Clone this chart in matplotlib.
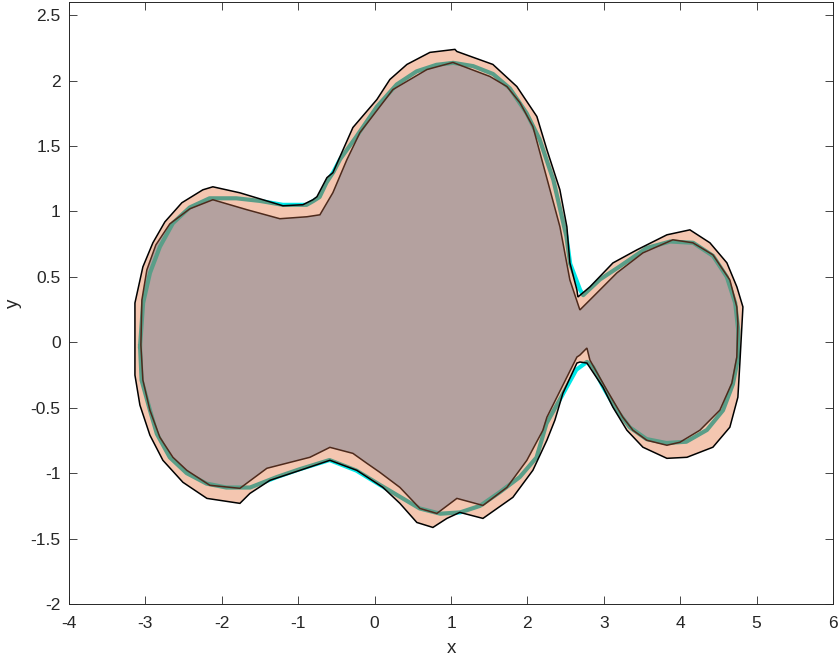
import numpy as np
import matplotlib.pyplot as plt
from matplotlib.patches import Polygon

plt.rcParams['font.family'] = ['Liberation Sans', 'DejaVu Sans']
plt.rcParams['axes.unicode_minus'] = False

# smooth closed curve (cyan line)
curve_x = [-3.07, -3.03, -2.94, -2.81, -2.64, -2.42, -2.16, -1.81, -1.50, -1.20,
           -0.89, -0.80, -0.72, -0.63, -0.54, -0.45, -0.24, 0.03, 0.29, 0.55,
           0.81, 1.03, 1.29, 1.55, 1.77, 1.99, 2.16, 2.34, 2.51, 2.56,
           2.69, 2.73, 2.95, 3.21, 3.56, 3.87, 4.17, 4.43, 4.61, 4.72,
           4.76, 4.76, 4.69, 4.56, 4.35, 4.08, 3.82, 3.56, 3.34, 3.17,
           2.99, 2.86, 2.78, 2.64, 2.47, 2.25, 2.12, 1.90, 1.64, 1.38,
           1.12, 0.86, 0.59, 0.33, 0.07, -0.24, -0.59, -0.98, -1.28, -1.63,
           -1.94, -2.20, -2.46, -2.68, -2.85, -2.94, -3.05, -3.07]
curve_y = [-0.03, 0.30, 0.53, 0.73, 0.91, 1.03, 1.10, 1.10, 1.08, 1.05,
           1.05, 1.08, 1.11, 1.22, 1.30, 1.40, 1.57, 1.80, 1.97, 2.07,
           2.12, 2.135, 2.11, 2.05, 1.94, 1.75, 1.55, 1.24, 0.81, 0.60,
           0.40, 0.36, 0.48, 0.58, 0.72, 0.77, 0.76, 0.66, 0.50, 0.30,
           0.09, -0.11, -0.32, -0.52, -0.67, -0.76, -0.77, -0.74, -0.65, -0.52,
           -0.34, -0.19, -0.15, -0.21, -0.39, -0.62, -0.88, -1.03, -1.145, -1.25,
           -1.30, -1.31, -1.27, -1.18, -1.09, -0.98, -0.90, -0.97, -1.03, -1.11,
           -1.11, -1.08, -1.00, -0.88, -0.70, -0.52, -0.29, -0.03]

# outer bound polygon (black edge)
outer_x = [-3.137, -3.137, -3.033, -2.902, -2.745, -2.523, -2.248, -2.117, -1.763, -1.200,
           -0.939, -0.808, -0.755, -0.624, -0.546, -0.284, 0.030, 0.200, 0.423, 0.724,
           1.051, 1.077, 1.548, 1.862, 2.124, 2.255, 2.425, 2.517, 2.556, 2.648,
           2.661, 2.818, 3.119, 3.433, 3.826, 4.127, 4.389, 4.611, 4.742, 4.821,
           4.781, 4.755, 4.650, 4.428, 4.088, 3.826, 3.512, 3.302, 3.119, 2.988,
           2.779, 2.687, 2.648, 2.465, 2.360, 2.255, 2.072, 1.810, 1.418, 1.116,
           0.946, 0.763, 0.553, 0.331, 0.109, -0.232, -0.585, -0.978, -1.370, -1.632,
           -1.763, -2.195, -2.509, -2.771, -2.941, -3.072, -3.137]
outer_y = [-0.136, 0.300, 0.576, 0.760, 0.920, 1.066, 1.165, 1.188, 1.142, 1.043,
           1.051, 1.089, 1.112, 1.258, 1.296, 1.641, 1.855, 2.008, 2.123, 2.215,
           2.238, 2.222, 2.123, 1.954, 1.725, 1.472, 1.166, 0.882, 0.607, 0.400,
           0.346, 0.423, 0.606, 0.706, 0.821, 0.859, 0.760, 0.607, 0.423, 0.270,
           -0.159, -0.420, -0.649, -0.802, -0.879, -0.887, -0.802, -0.672, -0.496, -0.343,
           -0.159, -0.151, -0.159, -0.389, -0.595, -0.749, -0.978, -1.185, -1.346, -1.300,
           -1.346, -1.415, -1.377, -1.231, -1.109, -0.979, -0.902, -0.979, -1.055, -1.155,
           -1.231, -1.193, -1.070, -0.902, -0.710, -0.480, -0.251]

# inner bound polygon (brown edge)
inner_x = [-3.059, -3.046, -2.981, -2.863, -2.680, -2.418, -2.117, -1.672, -1.240, -0.886,
           -0.716, -0.546, -0.363, -0.192, 0.240, 0.685, 1.025, 1.509, 1.732, 1.902,
           2.072, 2.164, 2.295, 2.426, 2.556, 2.687, 2.857, 3.171, 3.512, 3.904,
           4.166, 4.428, 4.650, 4.741, 4.755, 4.741, 4.676, 4.519, 4.258, 3.996,
           3.826, 3.564, 3.381, 3.250, 3.041, 2.818, 2.779, 2.687, 2.648, 2.255,
           2.203, 1.993, 1.732, 1.418, 1.077, 0.815, 0.593, 0.331, 0.069, -0.101,
           -0.284, -0.585, -0.847, -1.410, -1.763, -2.156, -2.457, -2.640, -2.811, -2.941,
           -3.033]
inner_y = [-0.021, 0.323, 0.553, 0.744, 0.905, 1.020, 1.089, 1.013, 0.944, 0.959,
           0.974, 1.143, 1.395, 1.602, 1.931, 2.084, 2.138, 2.031, 1.954, 1.831,
           1.648, 1.449, 1.166, 0.882, 0.476, 0.247, 0.346, 0.530, 0.683, 0.783,
           0.760, 0.668, 0.476, 0.270, 0.147, -0.113, -0.312, -0.519, -0.672, -0.764,
           -0.787, -0.749, -0.672, -0.573, -0.366, -0.136, -0.044, -0.098, -0.113, -0.573,
           -0.672, -0.902, -1.109, -1.247, -1.193, -1.308, -1.270, -1.109, -0.994, -0.925,
           -0.849, -0.803, -0.879, -0.963, -1.116, -1.093, -0.979, -0.879, -0.726, -0.519,
           -0.289]

fig = plt.figure(figsize=(8.38, 6.58), dpi=100)
ax = fig.add_axes([69 / 838, 54 / 658, 764 / 838, 602 / 658])

outer = np.column_stack([outer_x, outer_y])
inner = np.column_stack([inner_x, inner_y])

ax.plot(curve_x, curve_y, color='#00e8e8', lw=3, zorder=1)
ax.add_patch(Polygon(outer, closed=True, facecolor='#f4c6b0', edgecolor='none', zorder=2))
ax.add_patch(Polygon(inner, closed=True, facecolor='#b4a19f', edgecolor='none', zorder=3))
clip = Polygon(outer, closed=True, transform=ax.transData)
teal, = ax.plot(curve_x, curve_y, color='#5a9e88', lw=3, zorder=4)
teal.set_clip_path(clip)
ax.add_patch(Polygon(outer, closed=True, facecolor='none', edgecolor='black', lw=1.1, zorder=5))
ax.add_patch(Polygon(inner, closed=True, facecolor='none', edgecolor='#4e2a1c', lw=1.1, zorder=5))

ax.set_xlim(-4, 6)
ax.set_ylim(-2, 2.6)
ax.set_xticks(np.arange(-4, 7, 1))
ax.set_yticks(np.arange(-2, 2.51, 0.5))
ax.set_yticklabels(['-2', '-1.5', '-1', '-0.5', '0', '0.5', '1', '1.5', '2', '2.5'])
ax.tick_params(direction='in', top=True, right=True, length=5.5, width=0.6,
               labelsize=12.5, colors='#262626')
ax.tick_params(axis='x', pad=9)
ax.tick_params(axis='y', pad=6)
for s in ax.spines.values():
    s.set_color('#262626')
    s.set_linewidth(0.7)
ax.set_xlabel('x', fontsize=13.5, color='#262626', labelpad=6)
ax.set_ylabel('y', fontsize=13.5, color='#262626', labelpad=6)

fig.savefig('out.png', dpi=100)
